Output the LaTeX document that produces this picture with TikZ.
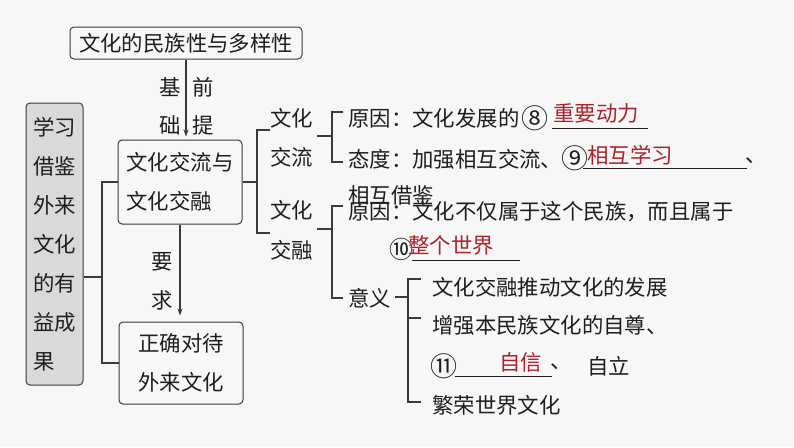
\documentclass[tikz,border=0pt]{standalone}
\usepackage{fontspec}
\setmainfont{Noto Sans CJK SC}
\usetikzlibrary{arrows.meta}
\definecolor{bgc}{HTML}{F7F7F7}
\definecolor{ln}{HTML}{3A3A3A}
\definecolor{tx}{HTML}{1E1E1E}
\definecolor{ans}{RGB}{172,34,44}
\definecolor{grayfill}{HTML}{D9D9D9}
\tikzset{
  t/.style={inner sep=0pt, anchor=west, text=tx, font=\fontsize{21.4}{21.4}\selectfont},
  red/.style={t, text=ans},
  circ/.style={t, font=\fontsize{27}{27}\selectfont},
  lbl/.style={inner sep=0pt, text=tx, font=\fontsize{21.4}{21.4}\selectfont},
  box/.style={draw=ln, line width=1pt, rounded corners=4pt, align=left, text=tx, inner sep=0pt,
              font=\fontsize{21.4}{39}\selectfont},
  conn/.style={draw=ln, line width=1.2pt},
  arr/.style={conn, -{Stealth[length=7pt,width=5pt]}},
  uline/.style={draw=tx, line width=1pt}
}
\begin{document}
\begin{tikzpicture}[x=1pt,y=-1pt]
\fill[bgc] (0,0) rectangle (794,447);
\useasboundingbox (0,0) rectangle (794,447);

% boxes
\node[box, minimum width=232pt, minimum height=32pt] (top) at (186,43) {文化的民族性与多样性};
\node[box, fill=grayfill, minimum width=57pt, minimum height=282pt] (gray) at (54.5,244)
  {学习\\借鉴\\外来\\文化\\的有\\益成\\果};
\node[box, minimum width=124pt, minimum height=84pt] (box2) at (180,182) {文化交流与\\文化交融};
\node[box, minimum width=124pt, minimum height=82pt] (box3) at (181,363) {正确对待\\外来文化};

% arrow labels
\node[lbl] (l1) at (170,87) {基};
\node[lbl] (l2) at (203,87) {前};
\node[lbl] (l3) at (170,125) {础};
\node[lbl] (l4) at (203,125) {提};
\node[lbl] (l5) at (162,262) {要};
\node[lbl] (l6) at (162,300) {求};

\draw[arr, shorten >=3pt] (top.south) -- (top.south |- box2.north);
\draw[arr, shorten >=6pt] (box2.south) -- (box2.south |- box3.north);

% left tree
\coordinate (jv) at (102,277);
\draw[conn] (gray.east |- jv) -- (jv);
\draw[conn] (box2.west) -| (jv) |- (box3.west);

% second level
\coordinate (b1) at (257,182);
\coordinate (ca1) at (270,130);
\coordinate (ca2) at (270,233);
\draw[conn] (box2.east) -- (b1);
\draw[conn] (ca1) -| (b1) |- (ca2);

\node[t] (w1) at (270,118) {文化};
\node[t] (w2) at (270,157) {交流};
\node[t] (w3) at (270,210) {文化};
\node[t] (w4) at (270,250) {交融};

% bracket for 文化交流
\coordinate (k1) at (317,136);
\coordinate (k1v) at (332,136);
\coordinate (k1a) at (343,112);
\coordinate (k1b) at (343,162);
\draw[conn] (k1) -- (k1v);
\draw[conn] (k1a) -| (k1v) |- (k1b);

% bracket for 文化交融
\coordinate (k2) at (317,229);
\coordinate (k2v) at (332,229);
\coordinate (k2a) at (343,206);
\coordinate (k2b) at (343,298);
\draw[conn] (k2) -- (k2v);
\draw[conn] (k2a) -| (k2v) |- (k2b);

% 文化交流 texts
\node[t] (r1) at (348,118) {原因：文化发展的};
\node[circ] (c8) at (521,118) {⑧};
\node[red] (a8) at (553,113) {重要动力};
\coordinate (u8a) at (552,128); \coordinate (u8b) at (648,128);
\draw[uline] (u8a) -- (u8b);
\node[t] (r2) at (348,159) {态度：加强相互交流、};
\node[circ] (c9) at (561,158) {⑨};
\node[red] (a9) at (587,155) {相互学习};
\coordinate (u9a) at (583,168); \coordinate (u9b) at (747,168);
\draw[uline] (u9a) -- (u9b);
\node[t] (dun1) at (745,161) {、};
\node[t] (r3) at (348,195) {相互借鉴};

% 文化交融 texts
\node[t] (r4) at (348,212) {原因：文化不仅属于这个民族，而且属于};
\node[circ, font=\fontsize{24}{24}\selectfont] (c10) at (389,249) {⑩};
\node[red] (a10) at (408,245) {整个世界};
\coordinate (u10a) at (412,260); \coordinate (u10b) at (520,260);
\draw[uline] (u10a) -- (u10b);
\node[t] (yy) at (348,298) {意义};

% bracket for 意义
\coordinate (m0) at (395,297);
\coordinate (mv) at (408,297);
\coordinate (ma) at (421,279);
\coordinate (mb) at (421,318);
\coordinate (mc) at (421,402);
\draw[conn] (m0) -- (mv);
\draw[conn] (ma) -| (mv) |- (mc);
\draw[conn] (mb) -- (mb -| mv);

\node[t] (s1) at (432,287) {文化交融推动文化的发展};
\node[t] (s2) at (432,325) {增强本民族文化的自尊、};
\node[circ] (c11) at (430,366) {⑪};
\node[red] (a11) at (499,362) {自信};
\coordinate (u11a) at (455,376); \coordinate (u11b) at (552,376);
\draw[uline] (u11a) -- (u11b);
\node[t] (dun2) at (550,367) {、};
\node[t] (s3) at (587,366) {自立};
\node[t] (s4) at (432,405) {繁荣世界文化};
\end{tikzpicture}
\end{document}
